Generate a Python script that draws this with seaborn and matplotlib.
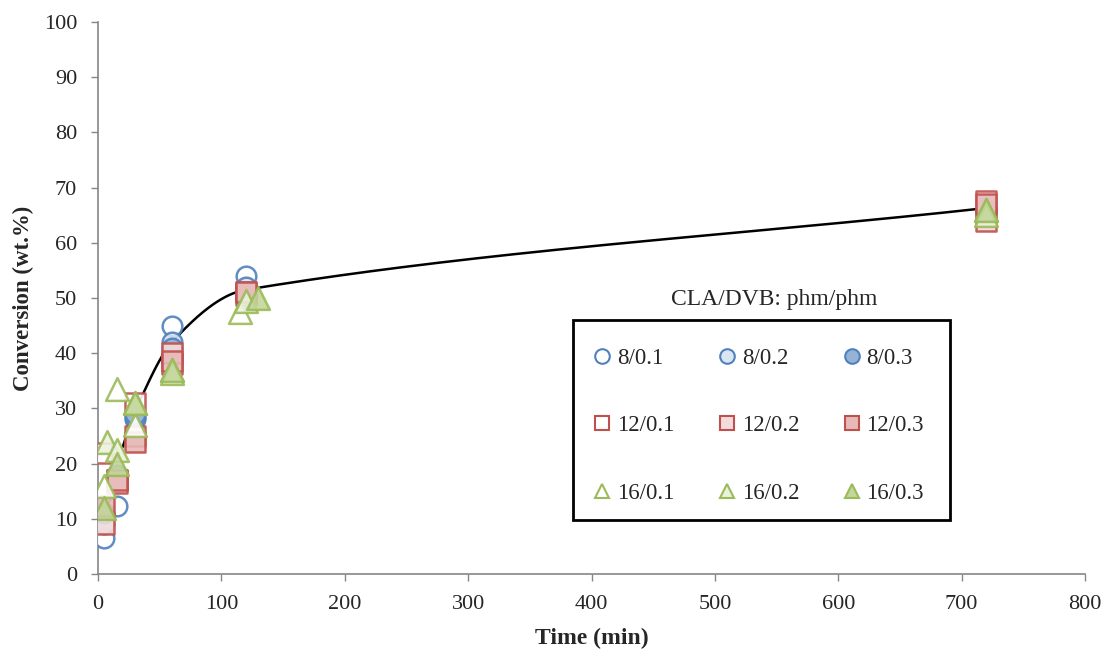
import numpy as np
import pandas as pd
import matplotlib
matplotlib.use("Agg")
import matplotlib.pyplot as plt
from matplotlib.patches import Rectangle
import seaborn as sns

# ---- data -------------------------------------------------------------
t_8_01 = [5, 15, 30, 60, 120, 720]
c_8_01 = [6.5, 12.3, 28.0, 45.0, 54.0, 66.0]
t_8_02 = [5, 15, 30, 60, 120, 720]
c_8_02 = [9.0, 17.0, 28.5, 42.0, 52.0, 65.0]
t_8_03 = [5, 15, 30, 60, 120, 720]
c_8_03 = [11.0, 18.0, 29.0, 41.0, 50.0, 66.0]

t_12_01 = [3, 15, 30, 60, 120, 720]
c_12_01 = [22.0, 17.0, 31.0, 38.0, 50.5, 67.5]
t_12_02 = [5, 15, 30, 60, 120, 720]
c_12_02 = [9.0, 16.5, 25.0, 40.0, 51.0, 64.0]
t_12_03 = [5, 15, 30, 60, 120, 720]
c_12_03 = [12.3, 17.0, 24.0, 38.5, 51.0, 67.0]

t_16_01 = [5, 15, 30, 60, 115, 720]
c_16_01 = [16.0, 33.5, 27.0, 37.0, 47.5, 66.0]
t_16_02 = [7, 15, 30, 60, 120, 720]
c_16_02 = [24.0, 22.5, 31.0, 36.5, 49.5, 65.0]
t_16_03 = [5, 15, 30, 60, 130, 720]
c_16_03 = [12.0, 20.0, 31.0, 37.0, 50.0, 66.0]

# trend curve knots
trend_t = [20, 30, 60, 120, 720]
trend_c = [23.0, 29.5, 42.0, 51.5, 66.3]

labels = ["8/0.1", "8/0.2", "8/0.3",
          "12/0.1", "12/0.2", "12/0.3",
          "16/0.1", "16/0.2", "16/0.3"]
times = [t_8_01, t_8_02, t_8_03, t_12_01, t_12_02, t_12_03,
         t_16_01, t_16_02, t_16_03]
convs = [c_8_01, c_8_02, c_8_03, c_12_01, c_12_02, c_12_03,
         c_16_01, c_16_02, c_16_03]

# ---- styling ------------------------------------------------------------
sns.set_theme(style="white")
plt.rcParams["font.family"] = ["Liberation Serif", "DejaVu Serif"]

edge = {"8": "#4F81BD", "12": "#C0504D", "16": "#9BBB59"}
fills = {
    "8": ["#FFFFFF", "#DCE6F2", "#95B3D7"],
    "12": ["#FFFFFF", "#F2DCDB", "#E6B9B8"],
    "16": ["#FFFFFF", "#EBF1DE", "#C3D69B"],
}
shape = {"8": "o", "12": "s", "16": "^"}
size = {"8": 200, "12": 200, "16": 270}

W, H = 1104, 654
fig = plt.figure(figsize=(W / 100, H / 100), dpi=100)
ax = fig.add_axes([98 / W, 80 / H, 987 / W, 552 / H])

# smooth trend curve (cubic Hermite through the knots)
kx = np.array(trend_t, float)
ky = np.array(trend_c, float)
m = np.empty_like(ky)
m[0] = (ky[1] - ky[0]) / (kx[1] - kx[0])
m[-1] = (ky[-1] - ky[-2]) / (kx[-1] - kx[-2])
m[1:-1] = (ky[2:] - ky[:-2]) / (kx[2:] - kx[:-2])
xs, ys = [], []
for i in range(len(kx) - 1):
    h = kx[i + 1] - kx[i]
    s = np.linspace(0, 1, 120)
    h00 = 2 * s**3 - 3 * s**2 + 1
    h10 = s**3 - 2 * s**2 + s
    h01 = -2 * s**3 + 3 * s**2
    h11 = s**3 - s**2
    xs.append(kx[i] + s * h)
    ys.append(h00 * ky[i] + h10 * h * m[i] + h01 * ky[i + 1] + h11 * h * m[i + 1])
curve = pd.DataFrame({"t": np.concatenate(xs), "c": np.concatenate(ys)})
sns.lineplot(data=curve, x="t", y="c", color="black", linewidth=1.8,
             ax=ax, sort=False, zorder=3)

handles = {}
for lab, tt, cc in zip(labels, times, convs):
    grp, lvl = lab.split("/")
    k = ["0.1", "0.2", "0.3"].index(lvl)
    df = pd.DataFrame({"t": tt, "c": cc})
    sns.scatterplot(data=df, x="t", y="c", ax=ax, marker=shape[grp],
                    s=size[grp], color=fills[grp][k], edgecolor=edge[grp],
                    linewidth=1.8, alpha=0.9, zorder=4)
    handles[lab] = plt.Line2D([], [], linestyle="none", marker=shape[grp],
                              markersize=10.5, markerfacecolor=fills[grp][k],
                              markeredgecolor=edge[grp], markeredgewidth=1.5)

ax.set_xlim(0, 800)
ax.set_ylim(0, 100)
ax.set_xticks(np.arange(0, 801, 100))
ax.set_yticks(np.arange(0, 101, 10))
ax.tick_params(axis="both", labelsize=16, direction="out", length=5,
               width=1, color="#868686", bottom=True, left=True)
ax.tick_params(axis="y", pad=10)
ax.tick_params(axis="x", pad=10)
for sp in ["top", "right"]:
    ax.spines[sp].set_visible(False)
for sp in ["left", "bottom"]:
    ax.spines[sp].set_color("#868686")
    ax.spines[sp].set_linewidth(1.2)

ax.set_xlabel("Time (min)", fontsize=17, fontweight="bold", labelpad=10)
ax.set_ylabel("Conversion (wt.%)", fontsize=16.5, fontweight="bold", labelpad=7)

# legend: 3x3 grid inside a plain black box, caption above it
order = ["8/0.1", "12/0.1", "16/0.1", "8/0.2", "12/0.2", "16/0.2",
         "8/0.3", "12/0.3", "16/0.3"]
fs = 16.5
leg = fig.legend([handles[o] for o in order], order, ncol=3,
                 loc="upper left", bbox_to_anchor=(591 / W, 1 - 348 / H),
                 bbox_transform=fig.transFigure, fontsize=fs, frameon=False,
                 borderpad=0, borderaxespad=0, labelspacing=2.02,
                 handlelength=1.0, handletextpad=0.15, columnspacing=1.78)
fig.patches.append(Rectangle((573 / W, 1 - 520 / H), 377 / W, 200 / H,
                             transform=fig.transFigure, fill=False,
                             edgecolor="black", linewidth=2.0, zorder=5))
fig.text(774 / W, 1 - 300 / H, "CLA/DVB: phm/phm", fontsize=17,
         ha="center", va="center")

fig.savefig("out.png", dpi=100)
